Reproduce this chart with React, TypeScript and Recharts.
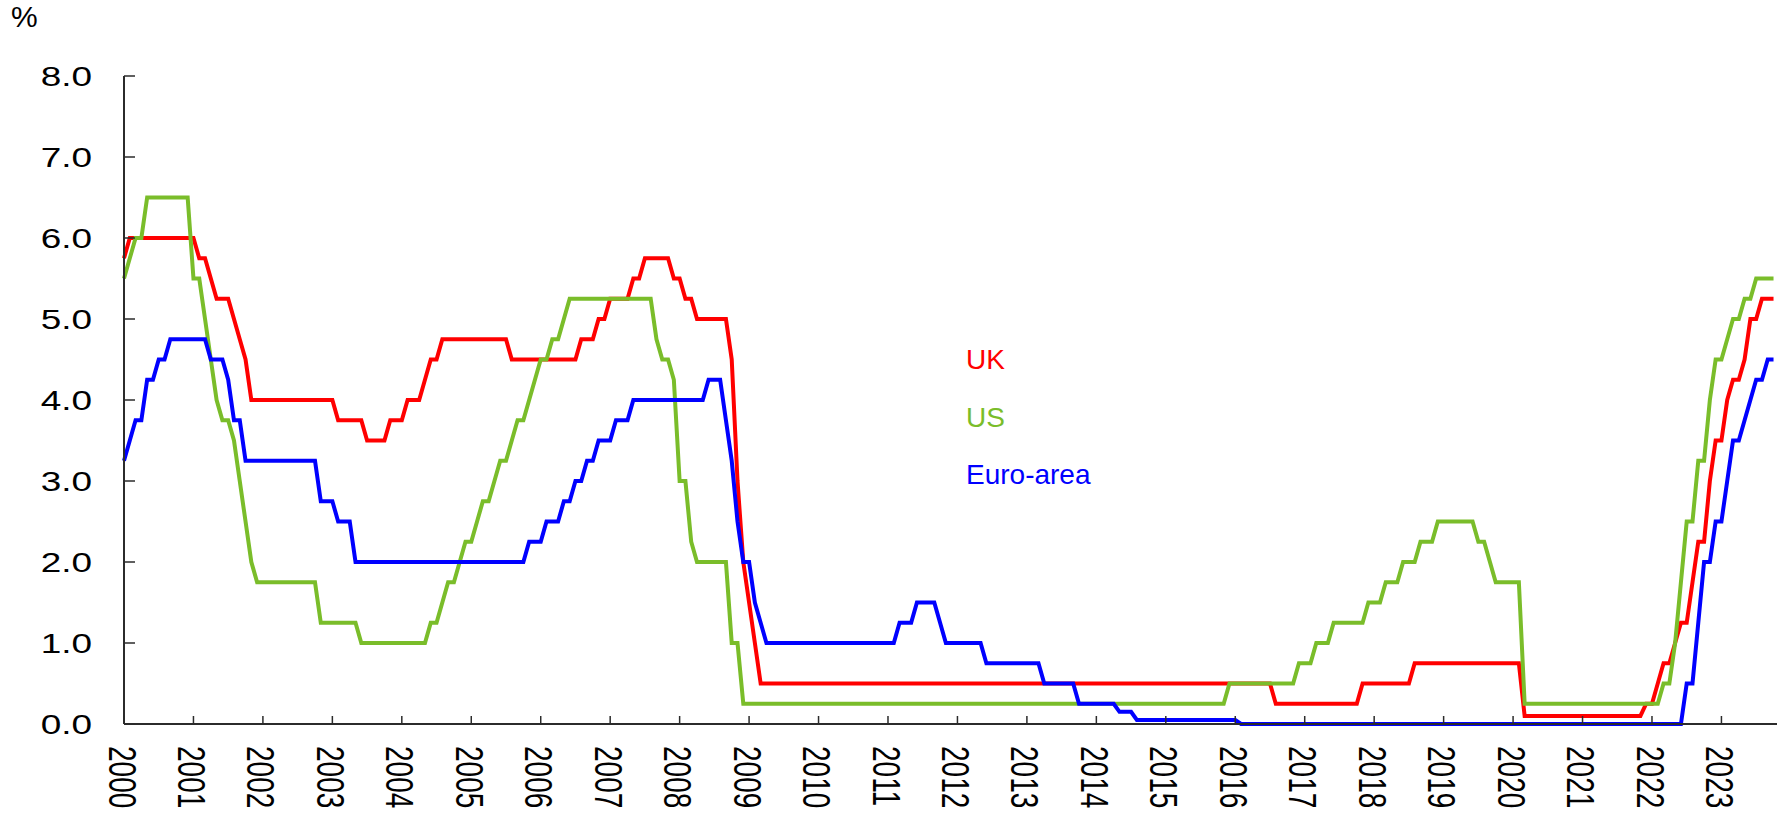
import React from 'react'
import { LineChart, Line, XAxis, YAxis } from 'recharts'

// monthly policy rates, Jan 2000 .. Oct 2023 (end of month, %)
const yearLabels = ['2000', '2001', '2002', '2003', '2004', '2005', '2006', '2007', '2008', '2009', '2010', '2011',
  '2012', '2013', '2014', '2015', '2016', '2017', '2018', '2019', '2020', '2021', '2022', '2023']
const yearTicks = [0, 12, 24, 36, 48, 60, 72, 84, 96, 108, 120, 132, 144, 156, 168, 180, 192, 204, 216, 228, 240, 252, 264, 276]
const yTicks = [0, 1, 2, 3, 4, 5, 6, 7, 8]

const ukRates = [
  5.75, 6, 6, 6, 6, 6, 6, 6, 6, 6, 6, 6, // 2000
  6, 5.75, 5.75, 5.5, 5.25, 5.25, 5.25, 5, 4.75, 4.5, 4, 4,
  4, 4, 4, 4, 4, 4, 4, 4, 4, 4, 4, 4,
  4, 3.75, 3.75, 3.75, 3.75, 3.75, 3.5, 3.5, 3.5, 3.5, 3.75, 3.75,
  3.75, 4, 4, 4, 4.25, 4.5, 4.5, 4.75, 4.75, 4.75, 4.75, 4.75,
  4.75, 4.75, 4.75, 4.75, 4.75, 4.75, 4.75, 4.5, 4.5, 4.5, 4.5, 4.5, // 2005
  4.5, 4.5, 4.5, 4.5, 4.5, 4.5, 4.5, 4.75, 4.75, 4.75, 5, 5,
  5.25, 5.25, 5.25, 5.25, 5.5, 5.5, 5.75, 5.75, 5.75, 5.75, 5.75, 5.5,
  5.5, 5.25, 5.25, 5, 5, 5, 5, 5, 5, 4.5, 3, 2,
  1.5, 1, 0.5, 0.5, 0.5, 0.5, 0.5, 0.5, 0.5, 0.5, 0.5, 0.5,
  0.5, 0.5, 0.5, 0.5, 0.5, 0.5, 0.5, 0.5, 0.5, 0.5, 0.5, 0.5, // 2010
  0.5, 0.5, 0.5, 0.5, 0.5, 0.5, 0.5, 0.5, 0.5, 0.5, 0.5, 0.5,
  0.5, 0.5, 0.5, 0.5, 0.5, 0.5, 0.5, 0.5, 0.5, 0.5, 0.5, 0.5,
  0.5, 0.5, 0.5, 0.5, 0.5, 0.5, 0.5, 0.5, 0.5, 0.5, 0.5, 0.5,
  0.5, 0.5, 0.5, 0.5, 0.5, 0.5, 0.5, 0.5, 0.5, 0.5, 0.5, 0.5,
  0.5, 0.5, 0.5, 0.5, 0.5, 0.5, 0.5, 0.5, 0.5, 0.5, 0.5, 0.5, // 2015
  0.5, 0.5, 0.5, 0.5, 0.5, 0.5, 0.5, 0.25, 0.25, 0.25, 0.25, 0.25,
  0.25, 0.25, 0.25, 0.25, 0.25, 0.25, 0.25, 0.25, 0.25, 0.25, 0.5, 0.5,
  0.5, 0.5, 0.5, 0.5, 0.5, 0.5, 0.5, 0.75, 0.75, 0.75, 0.75, 0.75,
  0.75, 0.75, 0.75, 0.75, 0.75, 0.75, 0.75, 0.75, 0.75, 0.75, 0.75, 0.75,
  0.75, 0.75, 0.1, 0.1, 0.1, 0.1, 0.1, 0.1, 0.1, 0.1, 0.1, 0.1, // 2020
  0.1, 0.1, 0.1, 0.1, 0.1, 0.1, 0.1, 0.1, 0.1, 0.1, 0.1, 0.25,
  0.25, 0.5, 0.75, 0.75, 1, 1.25, 1.25, 1.75, 2.25, 2.25, 3, 3.5,
  3.5, 4, 4.25, 4.25, 4.5, 5, 5, 5.25, 5.25, 5.25,
]

const usRates = [
  5.5, 5.75, 6, 6, 6.5, 6.5, 6.5, 6.5, 6.5, 6.5, 6.5, 6.5, // 2000
  5.5, 5.5, 5, 4.5, 4, 3.75, 3.75, 3.5, 3, 2.5, 2, 1.75,
  1.75, 1.75, 1.75, 1.75, 1.75, 1.75, 1.75, 1.75, 1.75, 1.75, 1.25, 1.25,
  1.25, 1.25, 1.25, 1.25, 1.25, 1, 1, 1, 1, 1, 1, 1,
  1, 1, 1, 1, 1, 1.25, 1.25, 1.5, 1.75, 1.75, 2, 2.25,
  2.25, 2.5, 2.75, 2.75, 3, 3.25, 3.25, 3.5, 3.75, 3.75, 4, 4.25, // 2005
  4.5, 4.5, 4.75, 4.75, 5, 5.25, 5.25, 5.25, 5.25, 5.25, 5.25, 5.25,
  5.25, 5.25, 5.25, 5.25, 5.25, 5.25, 5.25, 5.25, 4.75, 4.5, 4.5, 4.25,
  3, 3, 2.25, 2, 2, 2, 2, 2, 2, 1, 1, 0.25,
  0.25, 0.25, 0.25, 0.25, 0.25, 0.25, 0.25, 0.25, 0.25, 0.25, 0.25, 0.25,
  0.25, 0.25, 0.25, 0.25, 0.25, 0.25, 0.25, 0.25, 0.25, 0.25, 0.25, 0.25, // 2010
  0.25, 0.25, 0.25, 0.25, 0.25, 0.25, 0.25, 0.25, 0.25, 0.25, 0.25, 0.25,
  0.25, 0.25, 0.25, 0.25, 0.25, 0.25, 0.25, 0.25, 0.25, 0.25, 0.25, 0.25,
  0.25, 0.25, 0.25, 0.25, 0.25, 0.25, 0.25, 0.25, 0.25, 0.25, 0.25, 0.25,
  0.25, 0.25, 0.25, 0.25, 0.25, 0.25, 0.25, 0.25, 0.25, 0.25, 0.25, 0.25,
  0.25, 0.25, 0.25, 0.25, 0.25, 0.25, 0.25, 0.25, 0.25, 0.25, 0.25, 0.5, // 2015
  0.5, 0.5, 0.5, 0.5, 0.5, 0.5, 0.5, 0.5, 0.5, 0.5, 0.5, 0.75,
  0.75, 0.75, 1, 1, 1, 1.25, 1.25, 1.25, 1.25, 1.25, 1.25, 1.5,
  1.5, 1.5, 1.75, 1.75, 1.75, 2, 2, 2, 2.25, 2.25, 2.25, 2.5,
  2.5, 2.5, 2.5, 2.5, 2.5, 2.5, 2.25, 2.25, 2, 1.75, 1.75, 1.75,
  1.75, 1.75, 0.25, 0.25, 0.25, 0.25, 0.25, 0.25, 0.25, 0.25, 0.25, 0.25, // 2020
  0.25, 0.25, 0.25, 0.25, 0.25, 0.25, 0.25, 0.25, 0.25, 0.25, 0.25, 0.25,
  0.25, 0.25, 0.5, 0.5, 1, 1.75, 2.5, 2.5, 3.25, 3.25, 4, 4.5,
  4.5, 4.75, 5, 5, 5.25, 5.25, 5.5, 5.5, 5.5, 5.5,
]

const euroRates = [
  3.25, 3.5, 3.75, 3.75, 4.25, 4.25, 4.5, 4.5, 4.75, 4.75, 4.75, 4.75, // 2000
  4.75, 4.75, 4.75, 4.5, 4.5, 4.5, 4.25, 3.75, 3.75, 3.25, 3.25, 3.25,
  3.25, 3.25, 3.25, 3.25, 3.25, 3.25, 3.25, 3.25, 3.25, 3.25, 2.75, 2.75,
  2.75, 2.5, 2.5, 2.5, 2, 2, 2, 2, 2, 2, 2, 2,
  2, 2, 2, 2, 2, 2, 2, 2, 2, 2, 2, 2,
  2, 2, 2, 2, 2, 2, 2, 2, 2, 2, 2.25, 2.25, // 2005
  2.25, 2.5, 2.5, 2.5, 2.75, 2.75, 3, 3, 3.25, 3.25, 3.5, 3.5,
  3.5, 3.75, 3.75, 3.75, 4, 4, 4, 4, 4, 4, 4, 4,
  4, 4, 4, 4, 4, 4.25, 4.25, 4.25, 3.75, 3.25, 2.5, 2,
  2, 1.5, 1.25, 1, 1, 1, 1, 1, 1, 1, 1, 1,
  1, 1, 1, 1, 1, 1, 1, 1, 1, 1, 1, 1, // 2010
  1, 1, 1.25, 1.25, 1.25, 1.5, 1.5, 1.5, 1.5, 1.25, 1, 1,
  1, 1, 1, 1, 1, 0.75, 0.75, 0.75, 0.75, 0.75, 0.75, 0.75,
  0.75, 0.75, 0.75, 0.5, 0.5, 0.5, 0.5, 0.5, 0.5, 0.25, 0.25, 0.25,
  0.25, 0.25, 0.25, 0.25, 0.15, 0.15, 0.15, 0.05, 0.05, 0.05, 0.05, 0.05,
  0.05, 0.05, 0.05, 0.05, 0.05, 0.05, 0.05, 0.05, 0.05, 0.05, 0.05, 0.05, // 2015
  0.05, 0, 0, 0, 0, 0, 0, 0, 0, 0, 0, 0,
  0, 0, 0, 0, 0, 0, 0, 0, 0, 0, 0, 0,
  0, 0, 0, 0, 0, 0, 0, 0, 0, 0, 0, 0,
  0, 0, 0, 0, 0, 0, 0, 0, 0, 0, 0, 0,
  0, 0, 0, 0, 0, 0, 0, 0, 0, 0, 0, 0, // 2020
  0, 0, 0, 0, 0, 0, 0, 0, 0, 0, 0, 0,
  0, 0, 0, 0, 0, 0, 0.5, 0.5, 1.25, 2, 2, 2.5,
  2.5, 3, 3.5, 3.5, 3.75, 4, 4.25, 4.25, 4.5, 4.5,
]

const W = 1787
const H = 814
const PLOT_LEFT = 124
const PLOT_BOTTOM = 724
const FONT = '"Liberation Sans", Arial, Helvetica, sans-serif'
const AXIS = '#2b2b2b'

const chartData = ukRates.map((uk, i) => ({
  m: i,
  uk,
  us: usRates[i],
  euro: euroRates[i],
}))

function XTick(props: any) {
  const { x, payload } = props
  const label = yearLabels[yearTicks.indexOf(payload.value)]
  return (
    <g>
      <line x1={x} x2={x} y1={PLOT_BOTTOM} y2={PLOT_BOTTOM - 8} stroke={AXIS} strokeWidth={1.5} />
      <g transform={`translate(${x},746) rotate(90) scale(1,1.4)`}>
        <text x={0} y={11} fontSize={28} fontFamily={FONT} fill="#000">{label}</text>
      </g>
    </g>
  )
}

function YTick(props: any) {
  const { y, payload } = props
  return (
    <g>
      <line x1={PLOT_LEFT} x2={PLOT_LEFT + 11} y1={y} y2={y} stroke={AXIS} strokeWidth={1.5} />
      <g transform={`translate(92,${y}) scale(1.32,1)`}>
        <text x={0} y={10} textAnchor="end" fontSize={28} fontFamily={FONT} fill="#000">
          {Number(payload.value).toFixed(1)}
        </text>
      </g>
    </g>
  )
}

export default function App() {
  return (
    <div style={{ position: 'absolute', left: 0, top: 0, width: W, height: H, background: '#fff' }}>
      <LineChart width={W} height={H} data={chartData} margin={{ top: 76, right: 10, bottom: 0, left: 0 }}>
        <XAxis
          dataKey="m"
          type="number"
          domain={[0, 285.6]}
          ticks={yearTicks}
          interval={0}
          height={90}
          axisLine={{ stroke: AXIS, strokeWidth: 2 }}
          tickLine={false}
          tick={XTick}
        />
        <YAxis
          type="number"
          domain={[0, 8]}
          ticks={yTicks}
          interval={0}
          width={124}
          axisLine={{ stroke: AXIS, strokeWidth: 2 }}
          tickLine={false}
          tick={YTick}
        />
        <Line type="linear" dataKey="uk" stroke="#ff0000" strokeWidth={4} dot={false} isAnimationActive={false} />
        <Line type="linear" dataKey="us" stroke="#7abd2a" strokeWidth={4} dot={false} isAnimationActive={false} />
        <Line type="linear" dataKey="euro" stroke="#0000ff" strokeWidth={4} dot={false} isAnimationActive={false} />
      </LineChart>
      <svg width={W} height={H} style={{ position: 'absolute', left: 0, top: 0, pointerEvents: 'none' }}>
        <text x={11} y={27} fontSize={30} fontFamily={FONT} fill="#000">%</text>
        <text x={966} y={369} fontSize={28} fontFamily={FONT} fill="#ff0000">UK</text>
        <text x={966} y={427} fontSize={28} fontFamily={FONT} fill="#7abd2a">US</text>
        <text x={966} y={484} fontSize={28} fontFamily={FONT} fill="#0000ff">Euro-area</text>
      </svg>
    </div>
  )
}
